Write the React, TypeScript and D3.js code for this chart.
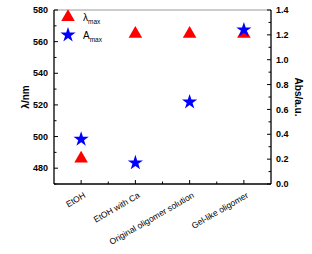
import React from "react";
import * as d3 from "d3";

const categories = ["EtOH", "EtOH with Ca", "Original oligomer solution", "Gel-like oligomer"];
const lambdaMax = [486, 565, 565, 565];
const aMax = [0.36, 0.17, 0.66, 1.24];
const leftTicks = [480, 500, 520, 540, 560, 580];
const rightTicks = [0, 0.2, 0.4, 0.6, 0.8, 1.0, 1.2, 1.4];

const W = 312, H = 254;
const M = { left: 54, right: 271, top: 10, bottom: 184 };
const FONT = "Liberation Sans, Arial, sans-serif";

export default function App() {
  const x = d3.scaleLinear().domain([0.5, categories.length + 0.5]).range([M.left, M.right]);
  const yL = d3.scaleLinear().domain([470, 580]).range([M.bottom, M.top]);
  const yR = d3.scaleLinear().domain([0, 1.4]).range([M.bottom, M.top]);

  const tri = d3.symbol().type(d3.symbolTriangle).size(80)()!;
  const star = d3.symbol().type(d3.symbolStar).size(72)()!;

  const leftMinor = d3.range(470, 581, 10).filter((v) => !leftTicks.includes(v));
  const rightMinor = d3.range(0.1, 1.4, 0.2);
  const xMinor = d3.range(0.5, categories.length + 0.6, 1).slice(1, -1);

  return (
    <svg width={W} height={H} style={{ position: "absolute", left: 0, top: 0, background: "#fff" }} fontFamily={FONT}>
      {/* frame */}
      <line x1={M.left} x2={M.right} y1={M.top} y2={M.top} stroke="#999" strokeWidth={1} />
      <line x1={M.left} x2={M.left} y1={M.top} y2={M.bottom} stroke="#000" strokeWidth={1.3} />
      <line x1={M.right} x2={M.right} y1={M.top} y2={M.bottom} stroke="#000" strokeWidth={1.3} />
      <line x1={M.left} x2={M.right} y1={M.bottom} y2={M.bottom} stroke="#000" strokeWidth={1.3} />

      {/* left ticks */}
      {leftTicks.map((v) => (
        <g key={"l" + v}>
          <line x1={M.left} x2={M.left + 4} y1={yL(v)} y2={yL(v)} stroke="#000" />
          <text x={M.left - 6} y={yL(v)} dy="0.35em" textAnchor="end" fontSize={9} fontWeight="bold">{v}</text>
        </g>
      ))}
      {leftMinor.map((v) => (
        <line key={"lm" + v} x1={M.left} x2={M.left + 2.5} y1={yL(v)} y2={yL(v)} stroke="#000" />
      ))}

      {/* right ticks */}
      {rightTicks.map((v) => (
        <g key={"r" + v}>
          <line x1={M.right - 4} x2={M.right} y1={yR(v)} y2={yR(v)} stroke="#000" />
          <text x={M.right + 5} y={yR(v)} dy="0.35em" textAnchor="start" fontSize={9} fontWeight="bold">{v.toFixed(1)}</text>
        </g>
      ))}
      {rightMinor.map((v) => (
        <line key={"rm" + v} x1={M.right - 2.5} x2={M.right} y1={yR(v)} y2={yR(v)} stroke="#000" />
      ))}

      {/* x ticks */}
      {categories.map((c, i) => (
        <g key={c}>
          <line x1={x(i + 1)} x2={x(i + 1)} y1={M.bottom} y2={M.bottom - 4} stroke="#000" />
          <text
            transform={`translate(${x(i + 1) + 5},${M.bottom + 13}) rotate(-30)`}
            textAnchor="end"
            fontSize={8.5}
          >{c}</text>
        </g>
      ))}
      {xMinor.map((v) => (
        <line key={"xm" + v} x1={x(v)} x2={x(v)} y1={M.bottom} y2={M.bottom - 2.5} stroke="#000" />
      ))}

      {/* axis titles */}
      <text transform={`translate(29,97) rotate(-90)`} textAnchor="middle" fontSize={10} fontWeight="bold">λ/nm</text>
      <text transform={`translate(295,97) rotate(90)`} textAnchor="middle" fontSize={10} fontWeight="bold">Abs/a.u.</text>

      {/* data */}
      {lambdaMax.map((v, i) => (
        <path key={"t" + i} d={tri} transform={`translate(${x(i + 1)},${yL(v)})`} fill="#ff0000" />
      ))}
      {aMax.map((v, i) => (
        <path key={"s" + i} d={star} transform={`translate(${x(i + 1)},${yR(v)})`} fill="#0000ff" />
      ))}

      {/* legend */}
      <path d={tri} transform="translate(68,17)" fill="#ff0000" />
      <text x={83} y={21} fontSize={10}>λ<tspan fontSize={6.5} dy={3}>max</tspan></text>
      <path d={star} transform="translate(68,35)" fill="#0000ff" />
      <text x={83} y={39} fontSize={10}>A<tspan fontSize={6.5} dy={3}>max</tspan></text>
    </svg>
  );
}
